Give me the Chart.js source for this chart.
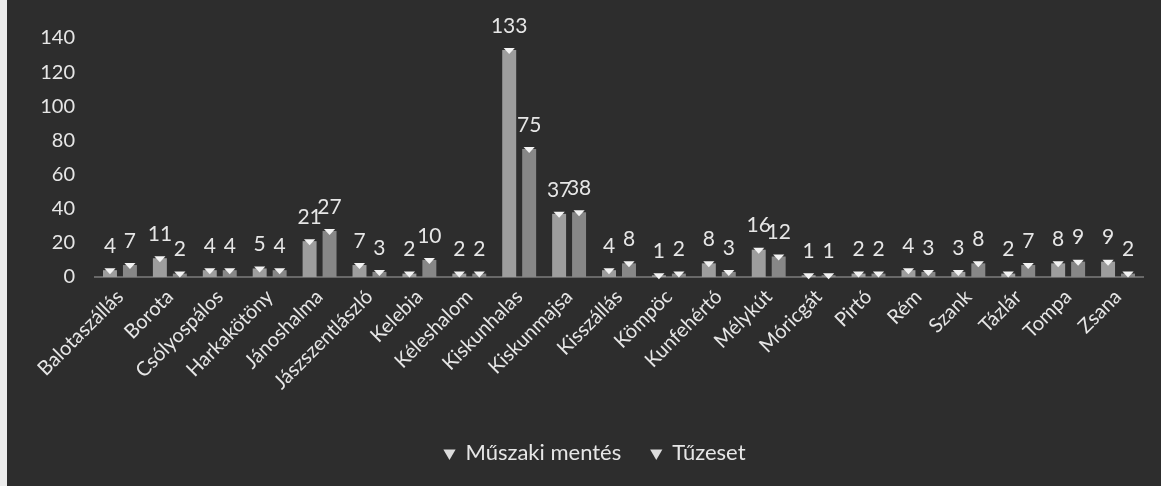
<!DOCTYPE html>
<html>
<head>
<meta charset="utf-8">
<script src="https://cdn.jsdelivr.net/npm/chart.js@4"></script>
<style>
  html, body { margin: 0; padding: 0; background: #ececec; }
  #wrap { position: absolute; left: 7px; top: 0; width: 1154px; height: 486px; background: #2d2d2d; }
</style>
</head>
<body>
<div id="wrap"><canvas id="chart" width="1154" height="486"></canvas></div>
<script>
// Településenkénti beavatkozások
const categories = [
  'Balotaszállás', 'Borota', 'Csólyospálos', 'Harkakötöny', 'Jánoshalma',
  'Jászszentlászló', 'Kelebia', 'Kéleshalom', 'Kiskunhalas', 'Kiskunmajsa',
  'Kisszállás', 'Kömpöc', 'Kunfehértó', 'Mélykút', 'Móricgát', 'Pirtó',
  'Rém', 'Szank', 'Tázlár', 'Tompa', 'Zsana'
];
const muszakiMentes = [4, 11, 4, 5, 21, 7, 2, 2, 133, 37, 4, 1, 8, 16, 1, 2, 4, 3, 2, 8, 9];
const tuzeset = [7, 2, 4, 4, 27, 3, 10, 2, 75, 38, 8, 2, 3, 12, 1, 2, 3, 8, 7, 9, 2];
const yTicks = [0, 20, 40, 60, 80, 100, 120, 140];

const FONT_FAMILY = "Lato, 'Open Sans', sans-serif";
const TEXT = '#e6e6e6';

// white cap + value label above each bar
const barDecor = {
  id: 'barDecor',
  afterDatasetsDraw(chart) {
    const { ctx } = chart;
    ctx.save();
    chart.data.datasets.forEach((ds, i) => {
      const meta = chart.getDatasetMeta(i);
      meta.data.forEach((bar, j) => {
        const w = bar.width * 0.8;
        ctx.fillStyle = '#f4f4f4';
        ctx.beginPath();
        ctx.moveTo(bar.x - w / 2, bar.y - 2);
        ctx.lineTo(bar.x + w / 2, bar.y - 2);
        ctx.lineTo(bar.x, bar.y + 4);
        ctx.closePath();
        ctx.fill();

        ctx.fillStyle = TEXT;
        ctx.font = `21px ${FONT_FAMILY}`;
        ctx.textAlign = 'center';
        ctx.textBaseline = 'middle';
        ctx.fillText(String(ds.data[j]), bar.x, bar.y - 24);
      });
    });
    ctx.restore();
  },
};

// legend sits a bit right of the canvas centre in the original
const legendNudge = {
  id: 'legendNudge',
  afterLayout(chart) {
    chart.legend.left += 20;
    chart.legend.right += 20;
  },
};

new Chart(document.getElementById('chart'), {
  type: 'bar',
  data: {
    labels: categories,
    datasets: [
      { label: 'Műszaki mentés', data: muszakiMentes, backgroundColor: '#9d9d9d' },
      { label: 'Tűzeset', data: tuzeset, backgroundColor: '#878787' },
    ],
  },
  options: {
    responsive: false,
    animation: false,
    categoryPercentage: 0.8,
    barPercentage: 0.7,
    layout: { padding: { top: 38, right: 18, bottom: 12, left: 0 } },
    plugins: {
      tooltip: { enabled: false },
      legend: {
        position: 'bottom',
        labels: {
          color: TEXT,
          font: { family: FONT_FAMILY, size: 22 },
          usePointStyle: true,
          boxWidth: 10,
          boxHeight: 10,
          padding: 30,
          generateLabels: (chart) => chart.data.datasets.map((ds, i) => ({
            text: ds.label,
            fillStyle: '#dcdcdc',
            strokeStyle: '#dcdcdc',
            fontColor: TEXT,
            pointStyle: 'triangle',
            rotation: 180,
            lineWidth: 0,
            datasetIndex: i,
          })),
        },
      },
    },
    scales: {
      x: {
        grid: { display: false, drawTicks: false },
        border: { color: '#686868', width: 2 },
        ticks: {
          color: TEXT,
          font: { family: FONT_FAMILY, size: 20 },
          minRotation: 45,
          maxRotation: 45,
          padding: 8,
          autoSkip: false,
        },
        afterFit: (scale) => { scale.height = 135; },
      },
      y: {
        min: 0,
        max: 140,
        grid: { display: false, drawTicks: false },
        border: { display: false },
        afterBuildTicks: (scale) => { scale.ticks = yTicks.map((v) => ({ value: v })); },
        ticks: {
          color: TEXT,
          font: { family: FONT_FAMILY, size: 20 },
          padding: 20,
        },
        afterFit: (scale) => { scale.width = 88; },
      },
    },
  },
  plugins: [barDecor, legendNudge],
});
</script>
</body>
</html>
